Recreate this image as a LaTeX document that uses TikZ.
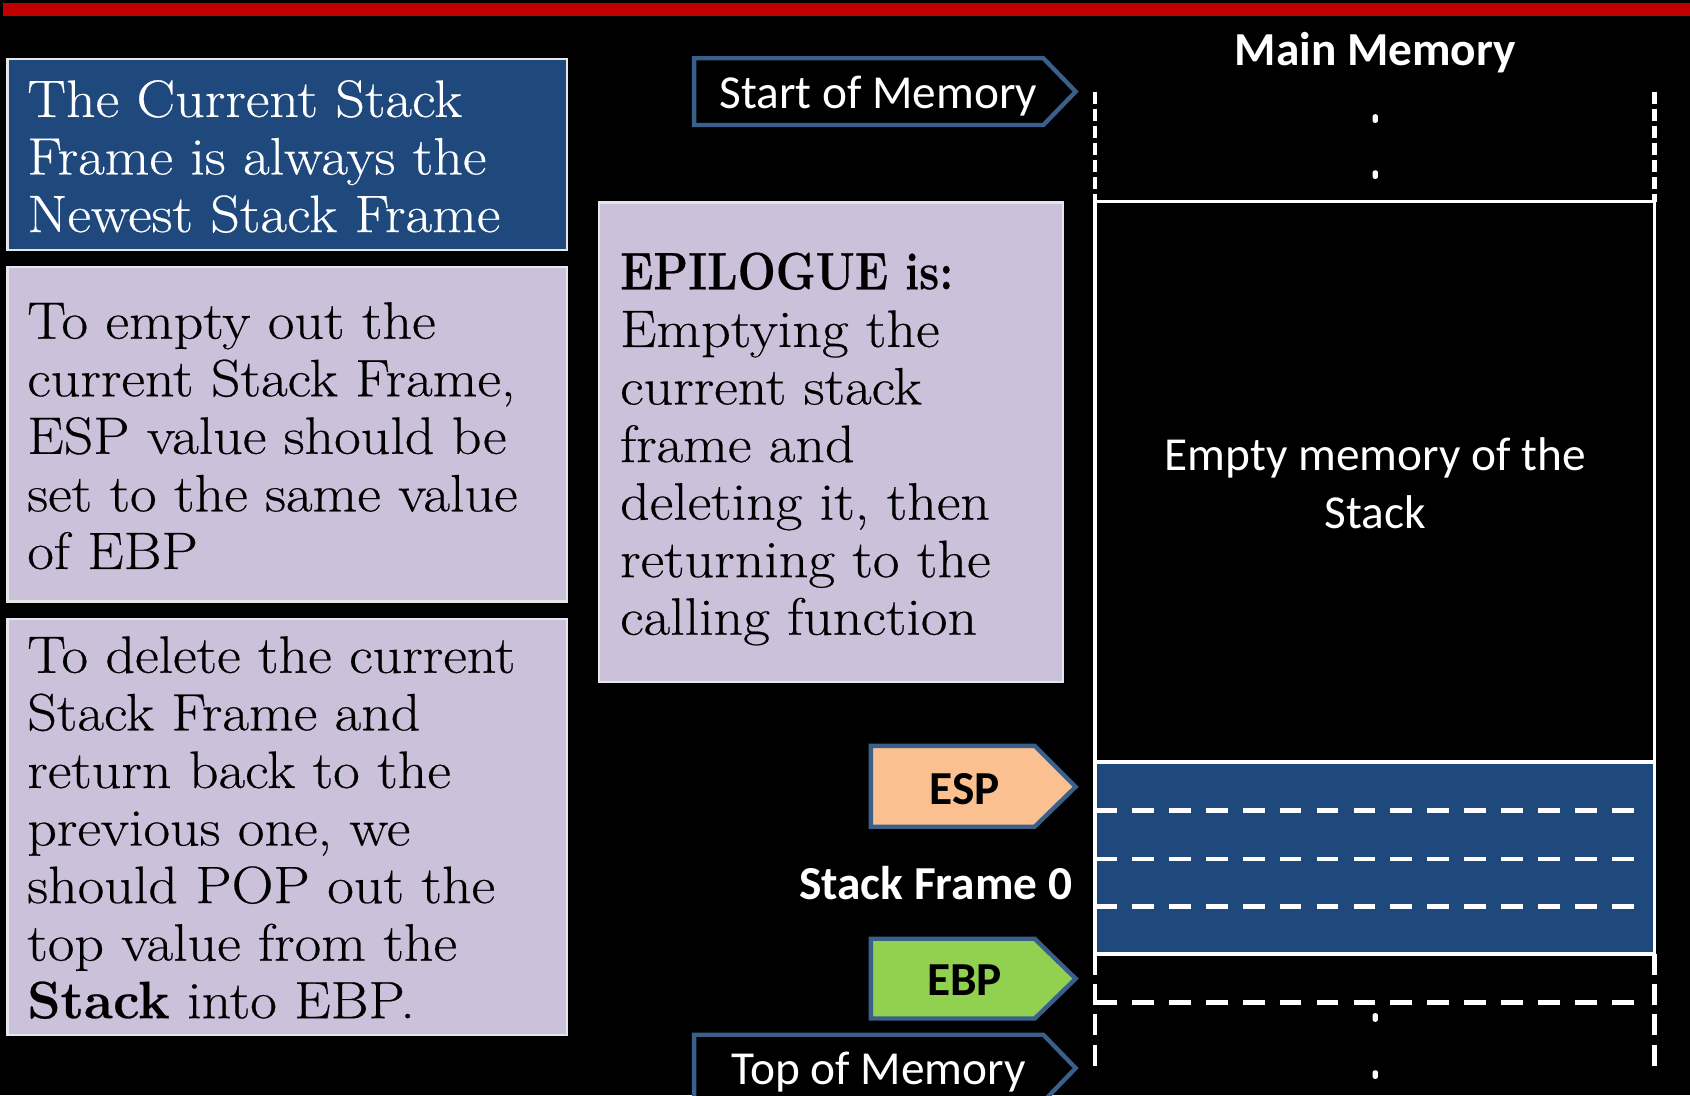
\documentclass[tikz,border=0pt]{standalone}
\usepackage{fontspec}
\setmainfont{Latin Modern Roman}[FakeStretch=1.1,FakeBold=0.4]
\newfontfamily\calibri{Carlito}
\definecolor{redbar}{HTML}{C00000}
\definecolor{navy}{HTML}{1F497D}
\definecolor{lav}{HTML}{CCC1DA}
\definecolor{tagblue}{HTML}{3A5F8B}
\definecolor{espcol}{HTML}{FAC090}
\definecolor{ebpcol}{HTML}{92D050}
\definecolor{boxedge}{HTML}{E6E6E6}
\begin{document}
\begin{tikzpicture}[x=0.02cm,y=-0.02cm,
  navybox/.style={fill=navy,draw=boxedge,line width=1.2pt},
  lavbox/.style={fill=lav,draw=boxedge,line width=1.2pt},
  tagshape/.style={draw=tagblue,line width=2.3pt},
  serif text/.style={font=\fontsize{27.8}{30.4}\selectfont,align=left,inner sep=0pt,anchor=north west},
  sans text/.style={font=\calibri\fontsize{25}{30.7}\selectfont,text=white,inner sep=0pt},
  sans bold/.style={font=\calibri\bfseries\fontsize{25}{30.7}\selectfont,text=white,inner sep=0pt},
  memline/.style={draw=white,line width=1.9pt},
  hdash/.style={draw=white,line width=2.3pt,dash pattern=on 11.5pt off 8pt},
  vdash/.style={draw=white,line width=2.3pt,dash pattern=on 6.5pt off 2.5pt},
  memdot/.style={fill=white,rounded corners=1.2pt}]
\useasboundingbox (0,0) rectangle (1568,1016);
\fill[black] (0,0) rectangle (1568,1016);
\begin{scope}
\clip (0,0) rectangle (1568,1016);
% red top bar
\fill[redbar] (3,3) rectangle (1568,15);

% left explanation boxes
\draw[navybox] (7,55) rectangle (526,232);
\node[serif text,text=white] (newest) at (25,74) {The Current Stack\\Frame is always the\\Newest Stack Frame};

\draw[lavbox] (7,248) rectangle (526,558);
\node[serif text] (emptyout) at (25,280) {To empty out the\\current Stack Frame,\\ESP value should be\\set to the same value\\of EBP};

\draw[lavbox] (7,574) rectangle (526,960);
\node[serif text] (delete) at (25,590) {To delete the current\\Stack Frame and\\return back to the\\previous one, we\\should POP out the\\top value from the\\\scalebox{0.92}[1]{\textbf{Stack}} into EBP.};

\draw[lavbox] (556,188) rectangle (986,633);
\node[serif text] (epilogue) at (575,234) {\scalebox{0.78}[1]{\textbf{EPILOGUE is:}}\\Emptying the\\current stack\\frame and\\deleting it, then\\returning to the\\calling function};

% tags
\draw[tagshape,fill=black] (644,54) -- (968,54) -- (998,85) -- (968,116) -- (644,116) -- cycle;
\node[sans text,anchor=base] (startmem) at (815,101) {Start of Memory};

\draw[tagshape,fill=espcol] (808,692) -- (960,692) -- (998,730) -- (960,767) -- (808,767) -- cycle;
\node[sans bold,text=black,anchor=base] (esp) at (895,746) {ESP};

\node[sans bold,anchor=base east] (sf0) at (995,835) {Stack Frame 0};

\draw[tagshape,fill=ebpcol] (808,871) -- (960,871) -- (998,908) -- (960,945) -- (808,945) -- cycle;
\node[sans bold,text=black,anchor=base] (ebp) at (895,924) {EBP};

\draw[tagshape,fill=black] (644,960) -- (968,960) -- (998,991) -- (968,1022) -- (644,1022) -- cycle;
\node[sans text,anchor=base] (topmem) at (815,1006) {Top of Memory};

% main memory column
\node[sans bold,anchor=base] (mainmem) at (1276,61) {Main Memory};
\draw[vdash] (1016,85) -- (1016,187);
\draw[vdash] (1535,85) -- (1535,187);
\fill[memdot] (1273.5,106) rectangle (1278.5,114);
\fill[memdot] (1273.5,158) rectangle (1278.5,166);

\draw[memline] (1016,187) rectangle (1535,707);
\node[sans text,align=center,anchor=center] (emptymem) at (1276,448) {Empty memory of the\\Stack};

\draw[memline,fill=navy] (1016,707) rectangle (1535,885);
\draw[hdash] (1016,752) -- (1520,752);
\draw[hdash] (1016,797) -- (1520,797);
\draw[hdash] (1016,841) -- (1520,841);

\draw[vdash,dash pattern=on 11pt off 5pt] (1016,885) -- (1016,990);
\draw[vdash,dash pattern=on 11pt off 5pt] (1535,885) -- (1535,990);
\draw[hdash] (1016,930) -- (1520,930);
\fill[memdot] (1273.5,940) rectangle (1278.5,948);
\fill[memdot] (1273.5,993) rectangle (1278.5,1001);
\end{scope}
\end{tikzpicture}
\end{document}
